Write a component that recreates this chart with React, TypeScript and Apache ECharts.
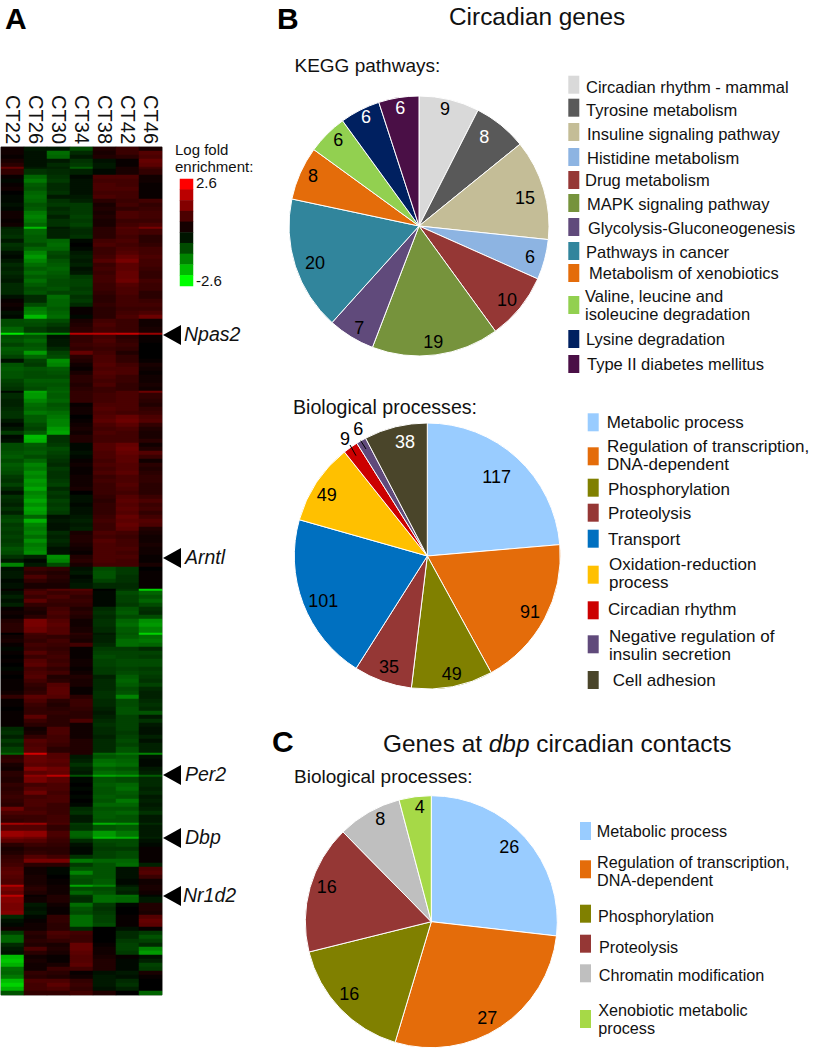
import React, { useEffect, useRef } from "react";
import * as echarts from "echarts";

const FONT = '"Liberation Sans", Arial, sans-serif';

const timepoints = ["CT22", "CT26", "CT30", "CT34", "CT38", "CT42", "CT46"];

const heatRowsA = [
  [.2,-.3,-.3,-.9,.4,.7,.3],[.2,-.2,-1.3,-.5,.3,.7,1.0],[.1,-.2,-1.2,-.3,.4,.5,.9],[.3,-.2,-.3,-.6,-.2,.1,1.2],
  [.5,-.2,-.5,-.7,-.3,.1,1.1],[1.2,-.3,-.4,-1.1,-.3,.3,.8],[.6,-.6,-.5,-.4,-.1,.3,.6],[.1,-1.2,-.6,-.1,.9,.9,.2],
  [-.1,-1.4,-.7,-.2,.8,.8,.2],[.1,-1.1,-.5,-.2,.9,.8,.1],[.2,-1.0,-.5,-.2,.9,.9,.1],[0,-1.2,-.6,-.2,.8,.8,.1],
  [-.1,-1.3,-.3,-.3,.9,.8,.1],[-.1,-1.2,-.6,-.4,.5,.7,.8],[-.2,-1.0,-.7,-.7,.3,.8,.6],[-.1,-1.1,-.5,-.7,.4,.6,.7],
  [.2,-1.4,-.6,-.7,.3,.9,.8],[.2,-1.5,-.4,-.8,.4,.9,.8],[.1,-1.4,-.6,-.7,.3,.7,.7],[.2,-1.2,-.6,-.8,.3,.8,.9],
  [-.4,-2.0,-.3,-.6,.5,1.0,1.4],[-.5,-1.2,-.4,-.5,.5,.9,.8],[-.6,-1.1,-.4,-.6,.5,.8,.5],[-.3,-1.1,-1.2,-.1,.8,.9,.5],
  [-.6,-.9,-1.3,0,.9,.8,.6],[-.5,-1.2,-1.2,-.1,.7,.9,.8],[-.2,-1.5,-.9,-.3,.7,1.0,.8],[-.1,-1.7,-.8,-.4,.8,1.2,.9],
  [-.3,-1.5,-1.0,-.3,1.0,1.4,.8],[-.5,-1.3,-1.1,-.4,.7,1.1,.8],[-.4,-1.1,-1.2,-.2,.8,1.1,.7],[-.5,-1.3,-1.1,-.3,.7,1.2,.6],
  [-.4,-1.1,-1.0,-.7,.8,1.2,.6],[-.3,-1.3,-.9,-.8,.8,1.3,.8],[-.5,-1.1,-.9,-.8,.7,1.0,.7],[-.5,-.9,-1.0,-.7,.7,.9,.7],
  [-.5,-1.0,-.8,-.8,.6,.9,.5],[-.2,-.5,-1.3,-.6,.5,.8,.5],[.1,-.5,-1.2,-.7,.5,.8,.7],[.2,-.9,-1.2,-.5,.6,.8,.8],
  [.1,-1.4,-1.1,.1,.5,.7,.7],[-.2,-1.5,-1.2,.1,.5,.8,.9],[-.1,-2.0,-1.3,-.1,.5,.9,1.3],[-.9,-1.0,-.9,.3,.8,.7,.2],
  [-.9,-.9,-.7,.4,.9,.7,.2],[-1.2,-.7,-.5,.5,.8,.7,.3],[-2.4,-1.7,-1.6,2.0,2.0,2.1,1.7],[-.9,-1.0,-.2,.6,.8,.5,.1],
  [-1.0,-1.2,-.3,.6,.9,.6,.1],[-.8,-1.0,-.3,.7,.8,.7,0],[-1.1,-1.1,-.5,.6,.7,.6,0],
];

const heatRowsB = [
  [-1.0,-1.7,-.8,1.2,.8,.4,0],[-.8,-1.2,-.9,.5,.9,.6,0],[-.2,-.8,-1.6,.4,.9,.6,.1],[-1.0,-.7,-1.5,.2,1.0,.8,.3],
  [-1.1,-1.0,-1.1,.1,.9,.9,.2],[-1.0,-.9,-1.0,.3,1.0,.9,.1],[-1.0,-.9,-.9,.5,.9,.7,.2],[-.8,-1.1,-1.1,.5,.8,.7,.2],
  [-.7,-1.0,-1.0,.4,.9,.6,.3],[-.6,-.9,-1.1,.5,.7,.6,.2],[-.1,-1.8,-1.2,.6,.7,.9,1.3],[-.5,-1.7,-1.1,.6,.8,.9,.6],
  [-.4,-1.5,-1.2,.6,.8,.9,.5],[-.4,-1.3,-1.0,.1,.9,.9,.4],[-.5,-1.2,-1.1,.2,1.0,.9,.6],[-.6,-1.4,-1.3,.2,.9,.8,.7],
  [-.6,-1.1,-1.4,0,1.0,1.2,.9],[-.3,-1.1,-1.5,.1,1.1,1.3,1.0],[-.1,-.9,-1.5,.2,.9,1.1,.6],[-.3,-.8,-1.7,.3,.8,.9,.4],
  [-.7,-1.1,-1.8,.2,.9,.8,.3],[-.1,-2.0,-.6,.4,.8,.8,.3],[-.2,-1.9,-.6,.4,.8,.8,.5],[-.9,-1.1,-.7,-.1,1.0,1.2,.2],
  [-.9,-1.0,-.9,-.1,1.0,1.3,.4],[-1.0,-1.1,-.8,-.2,.9,1.2,1.0],[-1.1,-.9,-.7,-.1,.9,1.1,.7],[-.9,-1.2,-.6,.1,.8,1.1,.2],
  [-1.1,-1.5,-.5,.2,.9,1.0,.5],[-1.0,-1.4,-.7,.1,.8,1.0,.4],[-.9,-1.6,-.6,.1,.9,1.1,.5],[-.7,-1.5,-.6,.2,.7,.9,.6],
  [-.6,-1.7,-.7,.2,.8,.9,.6],[-.8,-1.6,-.8,.2,.7,1.0,.5],[-.5,-1.8,-.5,.3,.7,.9,.5],[-.2,-1.5,-.7,0,.7,.8,.5],
  [-.6,-1.6,-.6,-.2,.6,1.0,.7],[-.5,-1.8,-.8,-.2,.5,1.1,.9],[-.4,-1.6,-.7,-.1,.6,1.0,.7],[-.6,-1.8,-.8,-.2,.6,1.1,.8],
  [-.4,-1.7,-.7,-.2,.6,1.0,.6],[-.8,-1.2,-.2,-.3,.7,1.2,.8],[-.9,-1.9,-.3,-.4,.8,1.1,1.0],[-.7,-1.5,-.2,-.3,.7,1.2,.9],
  [-.8,-1.4,-.2,-.4,.7,1.1,.4],[-.7,-1.5,-.5,.3,.9,.8,.3],[-.8,-1.3,-.4,.4,.8,.7,.2],[-.7,-1.6,-.5,.4,1.0,.8,.2],
  [-.8,-1.4,-.4,.3,.9,.8,.3],[-1.0,-1.5,-.2,.2,.9,.9,.2],[-.9,-1.6,-.2,.1,.9,.8,.2],[-.6,-.4,-1.6,.4,.9,.9,.1],
  [-.3,-.1,-1.5,.5,.9,.8,.1],[-1.5,-.3,-.9,.3,.8,.8,.3],
];

const heatRowsC = [
  [-.2,.7,.6,-.2,-.9,-.7,0],[-.3,.5,.4,-.3,-1.0,-.7,.1],[-.3,.9,.5,-.1,-1.0,-.6,.1],[-.1,.6,.4,-.2,-.8,-.6,.1],
  [-.2,.3,.3,-.3,-.5,-.5,.1],[.1,.7,1.0,1.0,0,-.6,-2.2],[-.2,.9,.7,.8,-.1,-.9,-1.2],[-.4,.7,.9,.6,-.1,-.8,-1.0],
  [-.2,1.1,.7,.7,-.1,-.8,-1.2],[-.4,.6,.6,.6,-.1,-.7,-.9],[.1,.4,.8,.4,-.5,-1.0,-.6],[.2,.3,.9,.5,-.6,-1.1,-.5],
  [.1,.5,.8,.4,-.5,-.9,-.9],[.4,1.4,1.0,.2,-.6,-1.2,-1.6],[.5,1.4,1.1,.2,-.6,-1.3,-1.7],[.5,1.3,1.0,.3,-.5,-1.1,-1.5],
  [0,.8,1.0,.5,-.3,-1.0,-2.2],[.2,.7,.6,.4,-.4,-1.1,-1.3],[.3,.6,.8,.3,-.4,-1.3,-1.4],[.1,.8,.7,.8,-.5,-1.3,-1.2],
  [-.1,.7,.6,.1,-.7,-.7,-.5],[.1,1.0,.7,.1,-.8,-.8,-.8],[0,.7,.8,.1,-.9,-.8,-.7],[.1,1.0,.7,.2,-.8,-.9,-.9],
  [0,1.1,.8,.2,-.8,-.9,-.9],[-.1,.8,.6,.1,-.7,-.8,-.7],[.1,.9,.8,.2,-.7,-.9,-.8],[0,1.0,.4,.4,-.4,-1.1,-.7],
  [.1,.8,.5,.3,-.5,-1.2,-.6],[.1,.6,1.0,.3,-.5,-1.1,-.8],[.1,.5,1.1,.1,-.5,-.9,-.5],[.2,.6,1.1,.1,-.6,-1.0,-.4],
  [.6,1.1,1.0,.5,-.6,-1.5,-.4],
];

const heatRowsD = [
  [.1,.9,.5,.7,-.5,-.9,-.5],[.1,.7,.4,.7,-.5,-.9,-.6],[0,.6,.5,.6,-.4,-1.0,-.5],[.1,.6,.6,.5,-.3,-1.0,-1.0],
  [.1,1.1,.5,.5,-.4,-.8,-.3],[.1,.7,.5,.9,-.5,-.8,-.6],[.1,.5,.5,.2,-.6,-.8,-.3],[-.5,.2,.9,.2,-.5,-.8,-.2],
  [-.6,.3,.9,.2,-.5,-.7,-.2],[-.4,.6,.8,.2,-.4,-.8,-.4],[-.7,1.0,.8,.4,-.5,-.9,-.2],[-.5,.9,.7,.4,-.5,-.8,-.4],
  [-.8,1.0,.5,.4,-.5,-1.0,-.4],[-1.2,2.2,1.0,.4,-1.2,-1.4,-1.5],[.5,1.2,1.0,-.3,-1.0,-1.1,-.2],[.6,1.2,1.1,-.4,-1.3,-1.2,-.1],
  [.3,1.1,1.0,-.6,-1.4,-1.3,-.1],[.2,1.5,1.3,-.4,-1.1,-1.0,-.3],[.5,1.1,1.2,-.3,-1.3,-1.2,-.4],[.5,1.6,2.0,-1.0,-1.8,-1.7,-1.1],
  [.4,1.4,1.1,-.1,-1.0,-.9,-.5],[.6,.8,.9,0,-1.1,-1.2,-.5],[.5,1.0,.9,-.1,-1.0,-1.3,-.4],[.6,1.3,.8,0,-1.0,-1.1,-.5],
  [.7,.8,.9,-.1,-1.1,-1.0,-.3],[.6,.9,.9,0,-1.0,-1.4,-.4],[.5,.9,.7,-.1,-1.2,-1.2,-.3],[1.3,.8,.7,-.5,-1.0,-1.0,-.4],
  [.9,.9,.7,-.6,-1.1,-1.2,-.6],[.7,.7,.8,-.3,-1.1,-1.0,-.3],[.6,.7,.8,-.3,-1.0,-1.0,-.3],[1.8,1.7,.9,-.7,-1.9,-1.7,-.5],
  [1.0,1.0,.6,-.6,-1.0,-1.1,-.3],[1.7,1.6,.9,-1.2,-1.7,-1.4,-.3],[1.4,1.3,.8,-1.1,-2.0,-1.9,-.4],[1.1,1.0,.7,-.5,-.9,-.9,-.2],
  [.5,.7,.6,-.2,-.8,-.9,-.1],[.3,.5,.5,-.1,-.7,-.7,.1],[.4,.6,.5,-.1,-.8,-.9,.1],[.6,1.0,.8,-.6,-.8,-.9,.1],
  [.7,1.4,1.4,-1.4,-1.2,-1.2,.1],[.8,.5,.5,-.7,-1.0,-1.3,-.4],
];

const heatRowsE = [
  [1.0,.2,-.1,-1.0,-1.0,-.2,.9],[1.1,.2,-.1,-1.5,-1.0,-.2,1.0],[1.0,.3,0,-1.0,-1.0,-.2,.7],[.9,.3,.1,-.9,-1.1,-.1,.2],
  [1.9,.4,.2,-1.8,-1.5,-.3,.3],[1.4,.5,.2,-.9,-.9,-.5,.3],[1.2,.4,.2,-1.2,-1.0,-.4,.2],[2.0,.1,.4,-.6,-1.3,-1.3,-.1],
  [1.5,.2,.4,-.5,-1.3,-1.2,-.3],[1.4,-.3,.2,-1.3,-.7,-.1,.4],[1.4,-.2,.1,-1.0,-.6,0,.4],[1.5,-.3,.1,-.9,-.7,0,.3],
  [-.5,-.1,.6,-1.3,-.8,.1,1.0],[-.2,.1,.6,-1.3,-.8,.1,1.2],[-.1,.2,.5,-1.3,-.9,.1,1.1],[.2,.2,.5,-.5,0,-.2,.1],
  [-.7,.5,.9,.8,0,-.5,-.7],[-1.2,.4,.8,.7,0,-.5,-1.0],[-1.2,.5,.6,.7,0,-.7,-.8],[-.5,.4,.3,1.2,.1,-.8,-.5],
  [-.3,.9,.4,1.2,.2,-.8,-1.5],[-.2,.5,.3,1.1,.2,-.7,-1.7],[-2.0,.2,.1,1.0,.3,.1,-.2],[-2.1,.3,.1,1.0,.4,-.1,-.4],
  [-1.9,.2,.3,1.1,.4,-.1,-.8],[-1.3,.2,.7,.8,.4,-.1,-.7],[-1.2,.6,.5,.1,-.2,-.3,.3],[-1.4,.5,.4,.2,-.3,-.2,.1],
  [-2.0,.9,.9,.6,-.3,-.5,0],[-2.2,.8,1.1,.7,-.3,-.6,0],[-1.9,.8,.9,.6,-.2,-.4,0],[-1.0,.6,.6,.8,.4,0,-1.2],
];

const heatRows = [...heatRowsA, ...heatRowsB, ...heatRowsC, ...heatRowsD, ...heatRowsE];

// rows that are thin bright streaks in the reference: only half the row height carries the value
const streakUpperHalf = [5, 20, 61, 157, 169, 187];
const streakLowerHalf = [46, 110, 121, 151, 172, 184];

const scaleSteps = [2.6, 2.0, 1.5, 0.9, 0.25, -0.25, -0.9, -1.5, -2.0, -2.6];

const kegg = ["Circadian rhythm - mammal", "Tyrosine metabolism", "Insuline signaling pathway", "Histidine metabolism", "Drug metabolism", "MAPK signaling pathway", "Glycolysis-Gluconeogenesis", "Pathways in cancer", "Metabolism of xenobiotics", "Valine, leucine and\nisoleucine degradation", "Lysine degradation", "Type II diabetes mellitus"];
const keggValues = [9, 8, 15, 6, 10, 19, 7, 20, 8, 6, 6, 6];
const keggColors = ["#d9d9d9", "#595959", "#c4bd97", "#8db4e2", "#953735", "#76933c", "#604a7b", "#31859c", "#e46c0a", "#92d050", "#002060", "#4a0f46"];
const keggLabelColors = ["#000", "#fff", "#000", "#000", "#000", "#000", "#000", "#000", "#000", "#000", "#fff", "#fff"];

const bio = ["Metabolic process", "Regulation of transcription,\nDNA-dependent", "Phosphorylation", "Proteolysis", "Transport", "Oxidation-reduction\nprocess", "Circadian rhythm", "Negative regulation of\ninsulin secretion", "Cell adhesion"];
const bioValues = [117, 91, 49, 35, 101, 49, 9, 6, 38];
const bioColors = ["#99ccff", "#e46c0a", "#808000", "#953735", "#0070c0", "#ffc000", "#cc0000", "#604a7b", "#4a452a"];
const bioLabelColors = ["#000", "#000", "#000", "#000", "#000", "#000", "#000", "#000", "#fff"];

const dbpProcesses = ["Metabolic process", "Regulation of transcription,\nDNA-dependent", "Phosphorylation", "Proteolysis", "Chromatin modification", "Xenobiotic metabolic\nprocess"];
const dbpValues = [26, 27, 16, 16, 8, 4];
const dbpColors = ["#99ccff", "#e46c0a", "#808000", "#953735", "#bfbfbf", "#a6d947"];

// layout only: label centres and legend rows, in page pixels
const keggLabelXY = [[445,109],[484.3,136.7],[525,197.7],[530,256.7],[507,300],[433.3,342.3],[359.3,328.3],[315,263.3],[313,176],[338.3,140],[366,117.3],[400.3,107.7]];
const bioLabelXY = [[496.7,477.3],[530,611.7],[451.7,674],[389,666.7],[323.3,600.7],[326.7,495.3],[345,439.3],[358.3,428.7],[405,442.3]];
const dbpLabelXY = [[509.3,846.7],[487.3,1017.7],[349.3,994],[326.7,887],[380.3,818.7],[419.7,806.7]];

const keggSwatchY = [84.7,107.7,132,157,180,203,227,251,273,305,339,364];
const keggTextY = [87,110,134,158,180,204,228,252,273,305,339,364];
const keggTextX = [586,586,587,587,585,587,588,586,589,585,586,587];
const bioSwatchY = [422.3,456.3,487.7,512.7,538.7,574.7,610.3,644.3,680];
const bioTextY = [422.7,455.3,489,513,539,573.7,609,645,680.7];
const bioTextX = [606.7,607,608,608,608,609,608,609,612.7];
const dbpSwatchY = [831,869.3,913.7,943.7,973.3,1019];
const dbpTextY = [831.3,870.7,915.7,947.3,975,1018.7];
const dbpTextX = [596.7,597,598,599,598.7,598.3];

const genes = ["Npas2", "Arntl", "Per2", "Dbp", "Nr1d2"];
const geneY = [335, 558, 775, 838, 896];
const geneTextX = [184, 185, 185, 185, 183];

function text(t: string, x: number, y: number, font: string, extra: any = {}) {
  return {
    type: "text", x, y, z: 100, silent: true,
    style: { text: t, font, fill: "#111", textAlign: "left", textVerticalAlign: "middle", ...extra },
  };
}

function legendEls(names: string[], colors: string[], swatchX: number, swatchY: number[], textX: number[], textY: number[], size: number) {
  const els: any[] = [];
  names.forEach((n, i) => {
    els.push({ type: "rect", z: 100, silent: true, shape: { x: swatchX, y: swatchY[i] - 9, width: 11, height: 18 }, style: { fill: colors[i] } });
    els.push(text(n, textX[i], textY[i], `${size}px ${FONT}`, { lineHeight: 18 }));
  });
  return els;
}

function pie(name: string, names: string[], values: number[], colors: string[], labelColors: string[], xy: number[][], center: number[], radius: number) {
  return {
    type: "pie", name, center, radius, startAngle: 90, clockwise: true, avoidLabelOverlap: false,
    silent: true, animation: false,
    itemStyle: { borderColor: "#fff", borderWidth: 1 },
    label: { show: true, position: "inside", formatter: "{c}", fontFamily: FONT, fontSize: 18, color: "#000" },
    labelLine: { show: false },
    labelLayout: (p: any) => ({ x: xy[p.dataIndex][0], y: xy[p.dataIndex][1], align: "center", verticalAlign: "middle" }),
    data: names.map((n, i) => ({ name: n, value: values[i], itemStyle: { color: colors[i] }, label: { color: labelColors[i] } })),
  };
}

export default function App() {
  const ref = useRef<HTMLDivElement>(null);
  useEffect(() => {
    if (!ref.current) return;
    const chart = echarts.init(ref.current, null, { renderer: "svg" });
    const heatData: number[][] = [];
    heatRows.forEach((row, r) => {
      const upper = streakLowerHalf.includes(r) ? heatRows[r - 1] : row;
      const lower = streakUpperHalf.includes(r) ? heatRows[r + 1] : row;
      upper.forEach((v, x) => heatData.push([x, 2 * r, v]));
      lower.forEach((v, x) => heatData.push([x, 2 * r + 1, v]));
    });
    const rowCats = heatRows.flatMap((_, i) => [`${i}a`, `${i}b`]);
    const bigFont = `bold 30px ${FONT}`;
    const headFont = `19px ${FONT}`;
    const graphics: any[] = [
      text("A", 5, 18, bigFont, { fill: "#000" }),
      text("B", 277, 18, bigFont, { fill: "#000" }),
      text("C", 272, 741, bigFont, { fill: "#000" }),
      text("Circadian genes", 449, 16, `24.4px ${FONT}`),
      {
        type: "text", x: 383, y: 743, z: 100, silent: true,
        style: {
          text: "{a|Genes at }{i|dbp}{a| circadian contacts}", textVerticalAlign: "middle",
          rich: {
            a: { font: `24.4px ${FONT}`, fill: "#111" },
            i: { font: `italic 24.4px ${FONT}`, fill: "#111" },
          },
        },
      },
      text("KEGG pathways:", 294.5, 65, headFont),
      text("Biological processes:", 293, 407, `19.6px ${FONT}`),
      text("Biological processes:", 294, 776, headFont),
      text("Log fold", 175, 149, `15px ${FONT}`),
      text("enrichment:", 175, 166, `15px ${FONT}`),
      text("2.6", 196, 182, `15px ${FONT}`),
      text("-2.6", 196, 280, `15px ${FONT}`),
      { type: "line", z: 100, silent: true, shape: { x1: 350, y1: 445, x2: 356, y2: 455.7 }, style: { stroke: "#000", lineWidth: 1 } },
      { type: "line", z: 100, silent: true, shape: { x1: 360.7, y1: 440.7, x2: 366, y2: 449 }, style: { stroke: "#000", lineWidth: 1 } },
      ...legendEls(kegg, keggColors, 568.3, keggSwatchY, keggTextX, keggTextY, 16.5),
      ...legendEls(bio, bioColors, 587.7, bioSwatchY, bioTextX, bioTextY, 17),
      ...legendEls(dbpProcesses, dbpColors, 580, dbpSwatchY, dbpTextX, dbpTextY, 16.2),
    ];
    genes.forEach((g, i) => {
      graphics.push({
        type: "polygon", z: 100, silent: true,
        shape: { points: [[163, geneY[i]], [181, geneY[i] - 10], [181, geneY[i] + 10]] },
        style: { fill: "#000" },
      });
      graphics.push(text(g, geneTextX[i], geneY[i] - 1, `italic 19.5px ${FONT}`));
    });

    chart.setOption({
      animation: false,
      backgroundColor: "#ffffff",
      grid: [
        { left: 1, top: 147, width: 161, height: 848, show: true, borderColor: "#8a8a8a", borderWidth: 1, backgroundColor: "transparent" },
        { left: 180, top: 179, width: 13, height: 107 },
      ],
      xAxis: [
        {
          type: "category", gridIndex: 0, position: "top", data: timepoints,
          axisLine: { show: false }, axisTick: { show: false }, splitLine: { show: false },
          axisLabel: { rotate: 90, fontSize: 20, fontFamily: FONT, color: "#111", margin: 3, interval: 0 },
        },
        { type: "category", gridIndex: 1, data: ["scale"], show: false },
      ],
      yAxis: [
        { type: "category", gridIndex: 0, inverse: true, data: rowCats, show: false },
        { type: "category", gridIndex: 1, inverse: true, data: scaleSteps.map(String), show: false },
      ],
      visualMap: {
        show: false, min: -2.6, max: 2.6, seriesIndex: [0, 1], dimension: 2,
        inRange: { color: ["#00ff00", "#006c00", "#000000", "#6c0000", "#ff0000"] },
      },
      graphic: graphics,
      series: [
        { type: "heatmap", name: "Log fold enrichment", xAxisIndex: 0, yAxisIndex: 0, data: heatData, silent: true, progressive: 0, emphasis: { disabled: true } },
        { type: "heatmap", name: "Scale", xAxisIndex: 1, yAxisIndex: 1, data: scaleSteps.map((v, i) => [0, i, v]), silent: true, emphasis: { disabled: true } },
        pie("KEGG pathways", kegg, keggValues, keggColors, keggLabelColors, keggLabelXY, [419, 226], 130),
        pie("Biological processes", bio, bioValues, bioColors, bioLabelColors, bioLabelXY, [427.3, 556], 133),
        pie("Genes at dbp circadian contacts", dbpProcesses, dbpValues, dbpColors, dbpColors.map(() => "#000"), dbpLabelXY, [431.3, 921.7], 126),
      ],
    });
    return () => chart.dispose();
  }, []);
  return <div ref={ref} style={{ position: "absolute", left: 0, top: 0, width: 814, height: 1050 }} />;
}
